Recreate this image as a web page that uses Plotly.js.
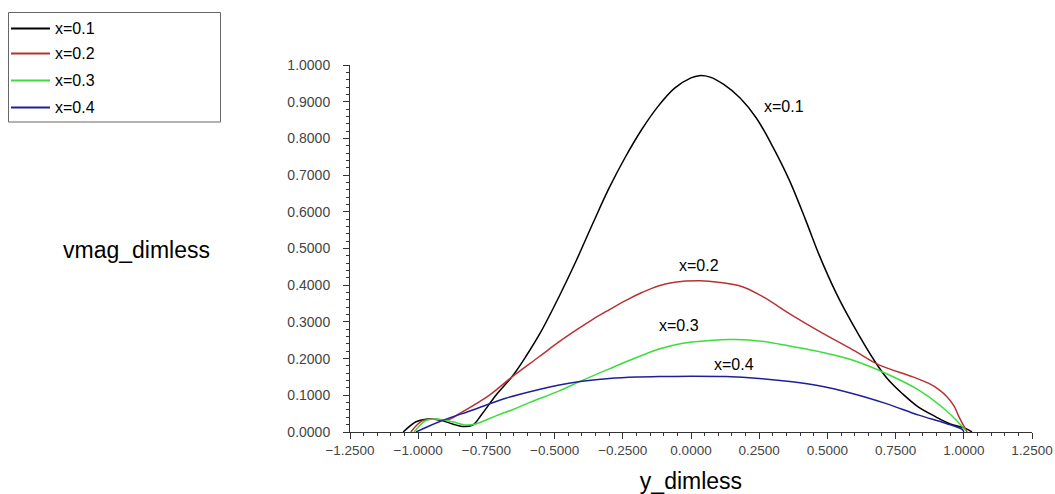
<!DOCTYPE html>
<html>
<head>
<meta charset="utf-8">
<script src="https://cdn.plot.ly/plotly-3.0.1.min.js"></script>
<style>html,body{margin:0;padding:0;background:#fff;}#chart{width:1055px;height:494px;}</style>
</head>
<body>
<div id="chart"></div>
<script>
// ---- data ----
const seriesNames = ["x=0.1", "x=0.2", "x=0.3", "x=0.4"];
const seriesColors = ["#000000", "#b83232", "#3ddc3d", "#1f1f9c"];

const y01 = [-1.055, -1.008, -0.972, -0.923, -0.874, -0.838, -0.800, -0.764, -0.715, -0.655, -0.606, -0.551, -0.483, -0.420, -0.360, -0.300, -0.240, -0.180, -0.120, -0.060, 0.000, 0.030, 0.070, 0.120, 0.180, 0.240, 0.300, 0.360, 0.420, 0.470, 0.530, 0.591, 0.676, 0.720, 0.774, 0.830, 0.896, 0.950, 1.006, 1.030];
const v01 = [0.000, 0.028, 0.035, 0.033, 0.022, 0.015, 0.019, 0.051, 0.100, 0.152, 0.205, 0.272, 0.370, 0.468, 0.568, 0.665, 0.750, 0.825, 0.888, 0.937, 0.965, 0.971, 0.967, 0.947, 0.910, 0.855, 0.777, 0.687, 0.578, 0.482, 0.382, 0.296, 0.190, 0.145, 0.105, 0.070, 0.042, 0.022, 0.010, 0.000];

const y02 = [-1.027, -0.984, -0.935, -0.893, -0.838, -0.740, -0.655, -0.557, -0.483, -0.420, -0.360, -0.300, -0.240, -0.180, -0.120, -0.060, 0.035, 0.100, 0.188, 0.260, 0.371, 0.469, 0.600, 0.689, 0.811, 0.870, 0.910, 0.940, 0.965, 0.982, 1.012];
const v02 = [0.000, 0.031, 0.035, 0.033, 0.055, 0.100, 0.151, 0.205, 0.246, 0.278, 0.307, 0.333, 0.358, 0.380, 0.398, 0.408, 0.412, 0.408, 0.396, 0.370, 0.318, 0.275, 0.221, 0.183, 0.151, 0.133, 0.115, 0.095, 0.070, 0.042, 0.000];

const y03 = [-1.015, -0.972, -0.923, -0.874, -0.825, -0.789, -0.715, -0.650, -0.593, -0.483, -0.400, -0.300, -0.200, -0.117, -0.030, 0.066, 0.140, 0.212, 0.290, 0.371, 0.469, 0.591, 0.713, 0.835, 0.933, 0.975, 1.006];
const v03 = [0.000, 0.031, 0.035, 0.028, 0.019, 0.022, 0.044, 0.062, 0.080, 0.112, 0.140, 0.172, 0.203, 0.226, 0.242, 0.249, 0.252, 0.251, 0.244, 0.233, 0.219, 0.196, 0.160, 0.114, 0.060, 0.030, 0.005];

const y04 = [-1.008, -0.923, -0.800, -0.679, -0.557, -0.483, -0.400, -0.300, -0.200, -0.117, 0.000, 0.127, 0.250, 0.371, 0.469, 0.591, 0.713, 0.835, 0.933, 0.994, 1.000];
const v04 = [0.000, 0.028, 0.060, 0.092, 0.116, 0.128, 0.138, 0.146, 0.150, 0.151, 0.152, 0.151, 0.146, 0.137, 0.126, 0.105, 0.078, 0.046, 0.024, 0.007, 0.000];

const xTickVals = [-1.25, -1.0, -0.75, -0.5, -0.25, 0, 0.25, 0.5, 0.75, 1.0, 1.25];
const yTickVals = [0, 0.1, 0.2, 0.3, 0.4, 0.5, 0.6, 0.7, 0.8, 0.9, 1.0];

// in-plot curve labels (data coords)
const labelText = ["x=0.1", "x=0.2", "x=0.3", "x=0.4"];
const labelX = [0.34, 0.03, -0.044, 0.157];
const labelY = [0.886, 0.455, 0.289, 0.183];

const xs = [y01, y02, y03, y04];
const vs = [v01, v02, v03, v04];

// ---- layout geometry ----
const W = 1055, H = 494;
const M = {l: 350, r: 23, t: 65, b: 62};
const pw = W - M.l - M.r, ph = H - M.t - M.b;
const pxX = px => (px - M.l) / pw;
const pxY = py => (H - M.b - py) / ph;

const traces = xs.map((x, i) => ({
  x: x, y: vs[i], type: 'scatter', mode: 'lines', name: seriesNames[i],
  line: {color: seriesColors[i], width: 1.5, shape: 'spline', smoothing: 1},
  showlegend: false, hoverinfo: 'skip'
}));

const font = 'Arial, "Liberation Sans", sans-serif';
const annotations = labelText.map((t, i) => ({
  x: labelX[i], y: labelY[i], xref: 'x', yref: 'y', text: t, showarrow: false,
  xanchor: 'center', yanchor: 'middle',
  font: {family: font, size: 16, color: '#000'}
}));

// y axis title (horizontal, left of the axis)
annotations.push({
  x: pxX(136), y: pxY(250), xref: 'paper', yref: 'paper', text: 'vmag_dimless',
  xanchor: 'center', yanchor: 'middle',
  showarrow: false, font: {family: font, size: 23, color: '#000'}
});

// legend box drawn from series names/colors
const shapes = [];
const legTop = 12.5, legBot = 122, legL = 8.5, legR = 220.5;
shapes.push({type: 'rect', xref: 'paper', yref: 'paper',
  x0: pxX(legL), x1: pxX(legR), y0: pxY(legBot), y1: pxY(legTop),
  line: {color: '#666', width: 1}, fillcolor: '#fff'});
const rowY = [28.5, 53.5, 80.5, 107.5];
seriesNames.forEach((n, i) => {
  shapes.push({type: 'line', xref: 'paper', yref: 'paper',
    x0: pxX(11), x1: pxX(50), y0: pxY(rowY[i]), y1: pxY(rowY[i]),
    line: {color: seriesColors[i], width: 1.8}});
  annotations.push({x: pxX(53), y: pxY(rowY[i]), xref: 'paper', yref: 'paper',
    xanchor: 'left', yanchor: 'middle', text: n, showarrow: false,
    font: {family: font, size: 16, color: '#000'}});
});

const layout = {
  width: W, height: H, margin: M,
  paper_bgcolor: '#fff', plot_bgcolor: '#fff',
  showlegend: false,
  font: {family: font},
  xaxis: {
    range: [-1.25, 1.25], tickmode: 'array', tickvals: xTickVals,
    tickformat: '.4f', ticks: 'outside', ticklen: 6, tickcolor: '#333', tickwidth: 1,
    minor: {dtick: 0.05, ticks: 'outside', ticklen: 3, tickcolor: '#333', showgrid: false},
    showline: true, linecolor: '#333', linewidth: 1, showgrid: false, zeroline: false,
    tickfont: {family: font, size: 13.5, color: '#444'},
    title: {text: 'y_dimless', font: {family: font, size: 23, color: '#000'}, standoff: 16}
  },
  yaxis: {
    range: [0, 1.0], tickmode: 'array', tickvals: yTickVals,
    tickformat: '.4f', ticks: 'outside', ticklen: 6, tickcolor: '#333', tickwidth: 1,
    minor: {dtick: 0.02, ticks: 'outside', ticklen: 3, tickcolor: '#333', showgrid: false},
    showline: true, linecolor: '#333', linewidth: 1, showgrid: false, zeroline: false,
    tickfont: {family: font, size: 14, color: '#444'},
    ticklabelstandoff: 10
  },
  annotations: annotations,
  shapes: shapes
};

Plotly.newPlot('chart', traces, layout, {displayModeBar: false, staticPlot: true});
</script>
</body>
</html>
